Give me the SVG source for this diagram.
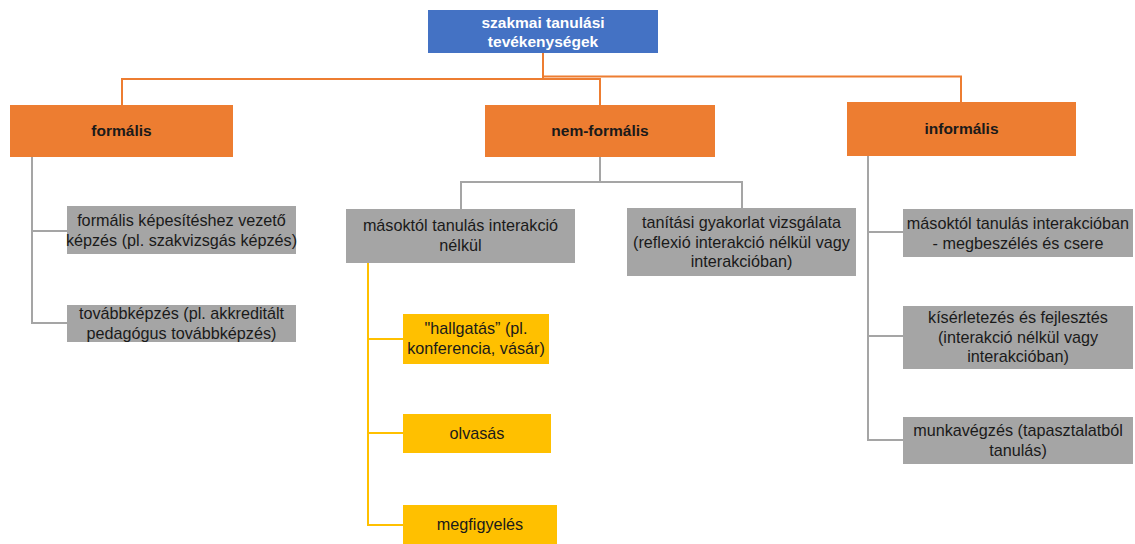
<svg xmlns="http://www.w3.org/2000/svg" width="1135" height="544" viewBox="0 0 1135 544">
<style>
.t{font-family:"Liberation Sans",Arial,sans-serif;font-size:16.2px;fill:#1a1a1a;text-anchor:middle}
.b{font-weight:bold;font-size:15.5px}
.w{fill:#ffffff;font-weight:bold;font-size:15.5px}
.blue{fill:#4472C4}
.or{fill:#ED7D31}
.gr{fill:#A5A5A5}
.ye{fill:#FFC000}
.lo{fill:none;stroke:#ED7D31;stroke-width:2}
.lg{fill:none;stroke:#A5A5A5;stroke-width:2}
.ly{fill:none;stroke:#FFC000;stroke-width:2}
</style>
<rect width="1135" height="544" fill="#ffffff"/>
<g id="connectors">
<path class="lo" d="M543,53 V79 H122 V105"/>
<path class="lo" d="M543,79 H600 V105"/>
<path class="lo" d="M543,76.5 H961 V102"/>
<path class="lg" d="M32,157 V323 H67 M32,231 H67"/>
<path class="lg" d="M600,157 V182 M461,209 V182 H742 V208"/>
<path class="ly" d="M368,263 V525 H403 M368,339 H403 M368,433 H403"/>
<path class="lg" d="M868,156 V440 H903 M868,232 H903 M868,336 H903"/>
</g>
<g id="root">
<rect class="blue" x="428" y="10" width="230" height="43"/>
<text class="t w" x="543" y="28">szakmai tanulási</text>
<text class="t w" x="543" y="47">tevékenységek</text>
</g>
<g id="formalis">
<rect class="or" x="10" y="105" width="223" height="52"/>
<text class="t b" x="121.5" y="136">formális</text>
</g>
<g id="nemformalis">
<rect class="or" x="485" y="105" width="230" height="52"/>
<text class="t b" x="600" y="136">nem-formális</text>
</g>
<g id="informalis">
<rect class="or" x="847" y="102" width="229" height="54"/>
<text class="t b" x="961.5" y="134">informális</text>
</g>
<g id="f1">
<rect class="gr" x="67" y="206" width="229" height="48"/>
<text class="t" x="181.5" y="226">formális képesítéshez vezető</text>
<text class="t" x="181.5" y="245.5">képzés (pl. szakvizsgás képzés)</text>
</g>
<g id="f2">
<rect class="gr" x="67" y="305" width="229" height="37"/>
<text class="t" x="181.5" y="319">továbbképzés (pl. akkreditált</text>
<text class="t" x="181.5" y="338.5">pedagógus továbbképzés)</text>
</g>
<g id="n1">
<rect class="gr" x="346" y="209" width="229" height="54"/>
<text class="t" x="460.5" y="231">másoktól tanulás interakció</text>
<text class="t" x="460.5" y="250.5">nélkül</text>
</g>
<g id="n2">
<rect class="gr" x="627" y="208" width="229" height="68"/>
<text class="t" x="741.5" y="228">tanítási gyakorlat vizsgálata</text>
<text class="t" x="741.5" y="247.5">(reflexió interakció nélkül vagy</text>
<text class="t" x="741.5" y="267">interakcióban)</text>
</g>
<g id="y1">
<rect class="ye" x="403" y="314" width="146" height="50"/>
<text class="t" x="476" y="334">"hallgatás” (pl.</text>
<text class="t" x="476" y="353.5">konferencia, vásár)</text>
</g>
<g id="y2">
<rect class="ye" x="403" y="414" width="148" height="39"/>
<text class="t" x="477" y="439">olvasás</text>
</g>
<g id="y3">
<rect class="ye" x="403" y="505" width="154" height="39"/>
<text class="t" x="480" y="530">megfigyelés</text>
</g>
<g id="i1">
<rect class="gr" x="903" y="209" width="230" height="48"/>
<text class="t" x="1018" y="229">másoktól tanulás interakcióban</text>
<text class="t" x="1018" y="248.5">- megbeszélés és csere</text>
</g>
<g id="i2">
<rect class="gr" x="903" y="306" width="230" height="63"/>
<text class="t" x="1018" y="323">kísérletezés és fejlesztés</text>
<text class="t" x="1018" y="342.5">(interakció nélkül vagy</text>
<text class="t" x="1018" y="362">interakcióban)</text>
</g>
<g id="i3">
<rect class="gr" x="903" y="417" width="230" height="47"/>
<text class="t" x="1018" y="436">munkavégzés (tapasztalatból</text>
<text class="t" x="1018" y="455.5">tanulás)</text>
</g>
</svg>
